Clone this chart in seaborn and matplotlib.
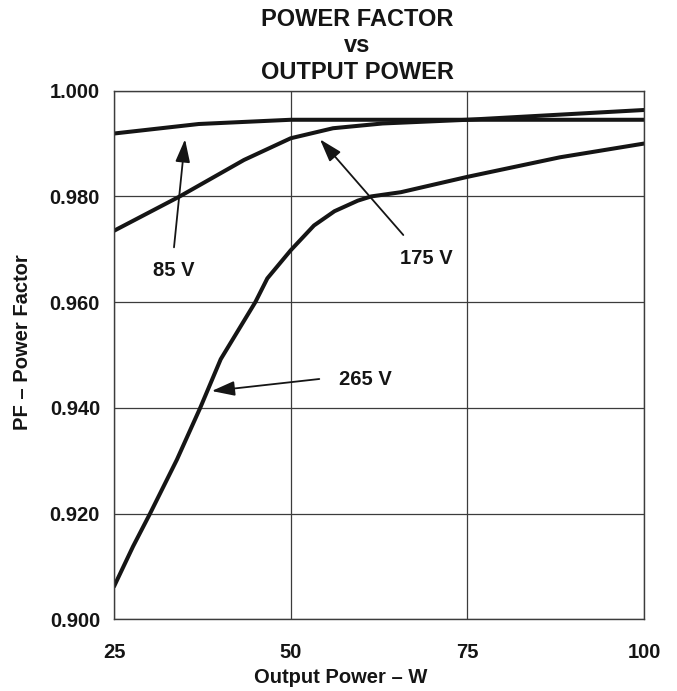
import matplotlib
matplotlib.use("Agg")
import matplotlib.pyplot as plt
import seaborn as sns
import pandas as pd

# Output power (W) and measured power factor for each input voltage
watts_85 = [25, 37, 50, 62.5, 75, 87.5, 100]
pf_85 = [0.9919, 0.9937, 0.9945, 0.9945, 0.9945, 0.9945, 0.9945]

watts_175 = [25, 34.3, 43.4, 50, 56, 63, 75, 100]
pf_175 = [0.9735, 0.9800, 0.9869, 0.9910, 0.9929, 0.9938, 0.9945, 0.99635]

watts_265 = [25, 27.7, 30.1, 33.9, 37.2, 40.1, 45.0, 46.7, 50, 53.3, 56.2,
             59.5, 61.4, 65.6, 75, 88.1, 100]
pf_265 = [0.9062, 0.9138, 0.9200, 0.9302, 0.9400, 0.9492, 0.9600, 0.9645,
          0.9698, 0.9745, 0.9772, 0.9792, 0.9800, 0.9808, 0.9837, 0.9874,
          0.9900]

voltages = ["85 V", "175 V", "265 V"]
x_ticks = [25, 50, 75, 100]
y_ticks = [0.900, 0.920, 0.940, 0.960, 0.980, 1.000]

df = pd.concat([
    pd.DataFrame({"W": watts_85, "PF": pf_85, "Vin": voltages[0]}),
    pd.DataFrame({"W": watts_175, "PF": pf_175, "Vin": voltages[1]}),
    pd.DataFrame({"W": watts_265, "PF": pf_265, "Vin": voltages[2]}),
])

sns.set_theme(style="white")
plt.rcParams["font.family"] = ["Liberation Sans", "DejaVu Sans"]
plt.rcParams["font.weight"] = "bold"

W, H = 677, 691
fig = plt.figure(figsize=(W / 100, H / 100), dpi=100)
ax = fig.add_axes([114 / W, 1 - 619.3 / H, 530 / W, 528.6 / H])

sns.lineplot(data=df, x="W", y="PF", hue="Vin",
             palette={v: "#151515" for v in voltages},
             linewidth=2.9, legend=False, ax=ax, sort=True)

ax.set_xlim(25, 100)
ax.set_ylim(0.9, 1.0)
ax.set_xticks(x_ticks)
ax.set_xticklabels([str(t) for t in x_ticks])
ax.set_yticks(y_ticks)
ax.set_yticklabels([f"{t:.3f}" for t in y_ticks])
ax.tick_params(axis="both", length=0, labelsize=14.5, colors="#151515")
ax.tick_params(axis="y", pad=10)
ax.tick_params(axis="x", pad=17)
for lab in ax.get_xticklabels() + ax.get_yticklabels():
    lab.set_fontweight("bold")

ax.grid(True, color="#3c3c3c", linewidth=0.9)
for sp in ax.spines.values():
    sp.set_color("#3c3c3c")
    sp.set_linewidth(1.0)

ax.set_xlabel("Output Power \u2013 W", fontsize=14.5, fontweight="bold",
              color="#151515")
ax.xaxis.set_label_coords(0.428, -0.092)
ax.set_ylabel("PF \u2013 Power Factor", fontsize=14.5, fontweight="bold",
              color="#151515")
ax.yaxis.set_label_coords(-0.155, 0.524)

# Title, three centred lines
for txt, yb in [("POWER FACTOR", 26), ("vs", 52.3), ("OUTPUT POWER", 79)]:
    fig.text(357 / W, 1 - yb / H, txt, ha="center", va="baseline",
             fontsize=17, fontweight="bold", color="#151515")

# Curve callouts
arrow = dict(arrowstyle="-|>,head_length=1.4,head_width=0.45",
             color="#151515", lw=1.3, mutation_scale=10, shrinkA=0, shrinkB=0)
callouts = [
    ("85 V", (35.05, 0.99081), (33.49, 0.97037), (33.45, 0.96595)),
    ("175 V", (54.15, 0.99080), (65.94, 0.97270), (69.25, 0.96830)),
    ("265 V", (38.83, 0.94319), (54.05, 0.94546), (60.62, 0.94540)),
]
for label, tip, tail, pos in callouts:
    ax.annotate("", xy=tip, xytext=tail, arrowprops=arrow)
    ax.text(pos[0], pos[1], label, ha="center", va="center",
            fontsize=14.5, fontweight="bold", color="#151515")

fig.savefig("out.png", dpi=100)
